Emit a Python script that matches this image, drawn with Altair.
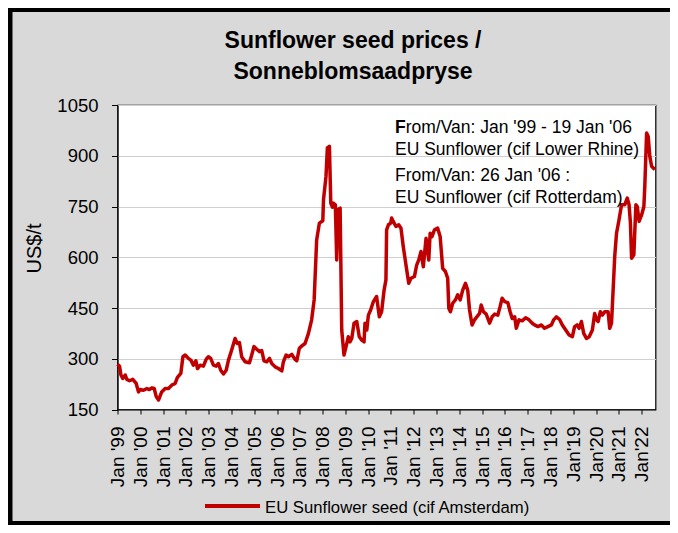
import json
import altair as alt
import pandas as pd

# ---------------- data ----------------
years = [
    1999.00, 1999.09, 1999.15, 1999.23, 1999.34, 1999.41, 1999.53, 1999.67, 1999.82, 1999.92,
    1999.99, 2000.14, 2000.29, 2000.40, 2000.51, 2000.61, 2000.70, 2000.80, 2000.94, 2001.09,
    2001.24, 2001.38, 2001.53, 2001.63, 2001.78, 2001.87, 2001.97, 2002.11, 2002.22, 2002.33,
    2002.44, 2002.51, 2002.63, 2002.77, 2002.89, 2002.99, 2003.09, 2003.21, 2003.33, 2003.43,
    2003.53, 2003.65, 2003.77, 2003.87, 2004.01, 2004.16, 2004.26, 2004.35, 2004.45, 2004.60,
    2004.79, 2004.89, 2004.99, 2005.11, 2005.23, 2005.33, 2005.43, 2005.55, 2005.67, 2005.77,
    2005.92, 2006.06, 2006.21, 2006.28, 2006.40, 2006.50, 2006.65, 2006.79, 2006.87, 2006.98,
    2007.09, 2007.23, 2007.38, 2007.52, 2007.63, 2007.74, 2007.86, 2008.01, 2008.04, 2008.15,
    2008.21, 2008.30, 2008.36, 2008.43, 2008.47, 2008.56, 2008.62, 2008.69, 2008.77, 2008.84,
    2008.94, 2009.03, 2009.13, 2009.20, 2009.28, 2009.38, 2009.50, 2009.61, 2009.72, 2009.82,
    2009.86, 2009.94, 2010.01, 2010.11, 2010.23, 2010.37, 2010.49, 2010.59, 2010.70, 2010.78,
    2010.81, 2010.89, 2010.99,
    2011.03, 2011.10, 2011.22, 2011.34, 2011.44, 2011.54, 2011.66, 2011.78, 2011.88,
    2012.03, 2012.13, 2012.22, 2012.32, 2012.42, 2012.54, 2012.66, 2012.72, 2012.80, 2012.91,
    2013.05, 2013.16, 2013.27, 2013.39, 2013.49, 2013.54, 2013.61, 2013.71, 2013.83, 2013.93,
    2014.04, 2014.15, 2014.27, 2014.37, 2014.45, 2014.56, 2014.67, 2014.77, 2014.89, 2014.96,
    2015.06, 2015.18, 2015.33, 2015.44, 2015.55, 2015.69, 2015.79, 2015.88, 2015.99,
    2016.13, 2016.23, 2016.32, 2016.43, 2016.50, 2016.62, 2016.76, 2016.91,
    2017.06, 2017.20, 2017.30, 2017.45, 2017.60, 2017.74, 2017.89,
    2018.04, 2018.14, 2018.26, 2018.40, 2018.52, 2018.67, 2018.82, 2018.96,
    2019.06, 2019.17, 2019.26, 2019.36, 2019.46, 2019.58, 2019.70, 2019.84, 2019.94,
    2020.02, 2020.09, 2020.19, 2020.28, 2020.38, 2020.53, 2020.60, 2020.68, 2020.75, 2020.82, 2020.90,
    2021.01, 2021.12, 2021.26, 2021.37, 2021.45, 2021.51, 2021.56, 2021.66, 2021.75, 2021.81, 2021.89,
    2022.00, 2022.10, 2022.14, 2022.22, 2022.29, 2022.36, 2022.44, 2022.58,
]
prices = [
    284, 278, 252, 242, 252, 239, 235, 239, 227, 202,
    209, 207, 212, 209, 214, 212, 188, 178, 202, 212,
    212, 222, 227, 245, 257, 306, 311, 301, 296, 281,
    294, 271, 281, 278, 298, 306, 301, 281, 278, 286,
    266, 255, 266, 296, 326, 360, 345, 348, 306, 291,
    288, 311, 336, 328, 321, 324, 294, 291, 301, 286,
    276, 271, 264, 291, 311, 306, 313, 298, 294, 331,
    338, 345, 375, 415, 474, 651, 701, 708, 770, 839,
    923, 928, 760, 748, 760, 755, 592, 742, 745, 385,
    311, 336, 365, 350, 360, 405, 410, 365, 355, 350,
    405, 385, 429, 444, 469, 484, 424, 439, 503, 533,
    681, 696, 701,
    716, 706, 691, 696, 686, 632, 577, 523, 538,
    543, 577, 592, 617, 572, 656, 592, 671, 661, 681,
    686, 661, 567, 558, 538, 449, 439, 464, 474, 489,
    474, 503, 523, 503, 444, 400, 415, 424, 434, 459,
    439, 432, 405, 424, 432, 429, 454, 479, 469,
    466, 439, 419, 424, 390, 415, 412, 421,
    415, 405, 400, 395, 400, 390, 395,
    400, 415, 424, 416, 400, 385, 370, 365,
    395, 400, 390, 410, 375, 360, 365, 385, 434,
    415, 410, 439, 429, 439, 439, 390, 405, 503, 602, 671,
    711, 755, 755, 775, 755, 701, 597, 607, 755, 750, 706,
    725, 750, 809, 967, 957, 898, 869, 859,
]

tick_years = list(range(1999, 2023))
tick_labels = [
    "Jan '99", "Jan '00", "Jan '01", "Jan '02", "Jan '03", "Jan '04", "Jan '05", "Jan '06",
    "Jan '07", "Jan '08", "Jan '09", "Jan '10", "Jan '11", "Jan '12", "Jan '13", "Jan '14",
    "Jan '15", "Jan '16", "Jan '17", "Jan '18", "Jan'19", "Jan'20", "Jan'21", "Jan'22",
]
y_ticks = [150, 300, 450, 600, 750, 900, 1050]

title_lines = ["Sunflower seed prices /", "Sonneblomsaadpryse"]
note_first_letter = "F"
note_lines = [
    "rom/Van: Jan '99 - 19 Jan '06",
    "EU Sunflower (cif Lower Rhine)",
    "From/Van: 26 Jan '06 :",
    "EU Sunflower (cif Rotterdam)",
]
series_name = "EU Sunflower seed (cif Amsterdam)"
y_title = "US$/t"

# ---------------- styling ----------------
RED = "#c00000"
BG = "#d9d9d9"
FONT = "Liberation Sans"

W, H = 538, 304.5
PAD = {"left": 109.5, "top": 97, "right": 14.5, "bottom": 115.5}
TOTAL_W = PAD["left"] + W + PAD["right"]
TOTAL_H = PAD["top"] + H + PAD["bottom"]

df = pd.DataFrame({"year": years, "price": prices})
one = pd.DataFrame({"k": [0]})

label_expr = "[" + ",".join(json.dumps(s) for s in tick_labels) + "][datum.value - 1999]"

line = alt.Chart(df).mark_line(color=RED, strokeWidth=3.5, strokeJoin="round").encode(
    x=alt.X(
        "year:Q",
        scale=alt.Scale(domain=[1999, 2022.61], nice=False, zero=False),
        axis=alt.Axis(
            values=tick_years, labelExpr=label_expr, labelAngle=270, grid=False,
            tickSize=4.5, tickColor="black", domainColor="black", labelPadding=12,
            labelFont=FONT, labelFontSize=19, labelColor="black", title=None,
            labelOverlap=False,
        ),
    ),
    y=alt.Y(
        "price:Q",
        scale=alt.Scale(domain=[150, 1050], nice=False, zero=False),
        axis=alt.Axis(
            values=y_ticks, format="d", grid=True, gridColor="#cfcfcf", gridWidth=1.2,
            tickSize=6, tickColor="black", domainColor="black", labelPadding=13.5,
            labelFont=FONT, labelFontSize=18.5, labelColor="black",
            title=y_title, titleFont=FONT, titleFontSize=20, titleFontWeight="normal",
            titleColor="black", titleAngle=270, titleX=-83.5, titleY=143,
            titleAlign="center", titleBaseline="middle",
        ),
    ),
)

def text_layer(txt, x, y, size, weight="normal", align="left"):
    return alt.Chart(one).mark_text(
        text=txt, font=FONT, fontSize=size, fontWeight=weight, align=align,
        baseline="alphabetic", color="black",
    ).encode(x=alt.value(x), y=alt.value(y))

layers = [line]
# title
layers.append(text_layer(title_lines[0], 235.5, -57, 23, weight="bold", align="center"))
layers.append(text_layer(title_lines[1], 235.5, -26, 23, weight="bold", align="center"))
# note
note_x = 277.5
NOTE_FS = 17.5
layers.append(text_layer(note_first_letter, note_x, 27.7, NOTE_FS, weight="bold"))
layers.append(text_layer(note_lines[0], note_x + 10.7, 27.7, NOTE_FS))
layers.append(text_layer(note_lines[1], note_x, 50, NOTE_FS))
layers.append(text_layer(note_lines[2], note_x, 75.7, NOTE_FS))
layers.append(text_layer(note_lines[3], note_x, 98.3, NOTE_FS))
# legend
layers.append(alt.Chart(one).mark_rule(color=RED, strokeWidth=4).encode(
    x=alt.value(87.5), x2=alt.value(142.5), y=alt.value(401)))
layers.append(text_layer(series_name, 147.5, 408, 16.7))
# outer frame strips
left_x = -PAD["left"]
top_y = -PAD["top"]
layers.append(alt.Chart(one).mark_rect(color="black").encode(
    x=alt.value(left_x), x2=alt.value(left_x + 4.5), y=alt.value(top_y), y2=alt.value(top_y + TOTAL_H)))
layers.append(alt.Chart(one).mark_rect(color="black").encode(
    x=alt.value(left_x), x2=alt.value(left_x + TOTAL_W), y=alt.value(top_y), y2=alt.value(top_y + 4)))
layers.append(alt.Chart(one).mark_rect(color="black").encode(
    x=alt.value(left_x), x2=alt.value(left_x + TOTAL_W), y=alt.value(top_y + TOTAL_H - 4), y2=alt.value(top_y + TOTAL_H)))

chart = alt.layer(*layers).properties(
    width=W, height=H, padding=PAD,
    autosize=alt.AutoSizeParams(type="none"),
    background=BG,
).configure_view(stroke="black", strokeWidth=1.2, fill="white")

chart.save("out.html", embed_options={"renderer": "svg", "actions": False})
